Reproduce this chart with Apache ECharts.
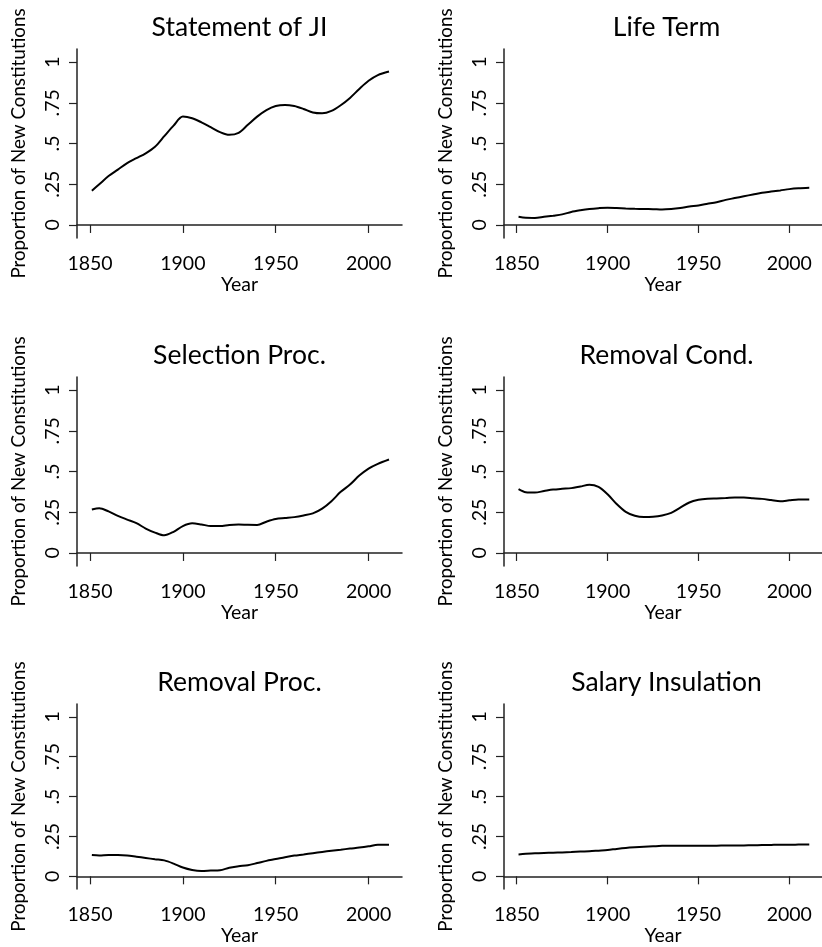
<!DOCTYPE html>
<html>
<head>
<meta charset="utf-8">
<script src="https://cdn.jsdelivr.net/npm/echarts@6/dist/echarts.min.js"></script>
<style>
    html, body { margin: 0; padding: 0; background: #fff; }
    #chart { width: 822px; height: 947px; }
</style>
</head>
<body>
<div id="chart"></div>
<script>
// years sampled along the smoothed curves
var years = [1851, 1855, 1860, 1865, 1870, 1875, 1880, 1885, 1890, 1895, 1900, 1905, 1910,
    1915, 1920, 1925, 1930, 1935, 1940, 1945, 1950, 1955, 1960, 1965, 1970, 1975, 1980,
    1985, 1990, 1995, 2000, 2005, 2011];

var statementJI = [.21, .25, .30, .34, .38, .41, .44, .48, .545, .61, .665, .655, .63,
    .60, .57, .553, .565, .615, .665, .705, .73, .737, .73, .712, .69, .685, .70,
    .735, .78, .835, .885, .92, .942];
var lifeTerm = [.05, .044, .043, .05, .057, .065, .08, .09, .098, .103, .106, .104, .101,
    .099, .098, .097, .095, .098, .104, .113, .12, .13, .14, .154, .165, .176, .187,
    .198, .205, .212, .22, .225, .228];
var selectionProc = [.267, .275, .255, .228, .205, .183, .15, .125, .108, .13, .165, .182, .175,
    .165, .165, .172, .175, .173, .172, .192, .208, .214, .22, .23, .243, .272, .318,
    .375, .42, .475, .518, .547, .574];
var removalCond = [.392, .373, .371, .38, .389, .394, .398, .408, .418, .405, .36, .30, .252,
    .228, .22, .222, .23, .246, .278, .31, .326, .333, .335, .337, .34, .34, .336,
    .332, .325, .318, .323, .328, .328];
var removalProc = [.133, .13, .133, .133, .131, .123, .115, .107, .10, .08, .055, .04, .034,
    .036, .038, .054, .063, .07, .083, .097, .108, .12, .13, .137, .145, .153, .16,
    .167, .174, .18, .188, .198, .198];
var salaryIns = [.137, .141, .145, .147, .148, .15, .152, .155, .157, .161, .165, .172, .178,
    .182, .185, .188, .191, .192, .192, .192, .192, .192, .192, .193, .193, .194, .195,
    .196, .197, .198, .198, .199, .20];

var titles = ['Statement of JI', 'Life Term', 'Selection Proc.', 'Removal Cond.', 'Removal Proc.', 'Salary Insulation'];
var panels = [statementJI, lifeTerm, selectionProc, removalCond, removalProc, salaryIns];
var xTicks = [1850, 1900, 1950, 2000];
var yTicks = [0, .25, .5, .75, 1];

var font = 'Lato, "Open Sans", sans-serif';
var rowTops = [49, 377, 704];
var plotH = 189;
var cols = [{left: 77, right: 420, cx: 239.5}, {left: 504, right: -7, cx: 666.5}];

var grids = [], xAxes = [], yAxes = [], series = [], titleList = [];

panels.forEach(function (vals, i) {
    var col = cols[i % 2];
    var top = rowTops[Math.floor(i / 2)];
    grids.push({left: col.left, right: col.right, top: top, height: plotH});
    titleList.push({
        text: titles[i],
        left: col.cx,
        top: top - 35,
        textAlign: 'center',
        padding: 0,
        textStyle: {fontFamily: font, fontSize: 26.5, fontWeight: 'normal', color: '#000'}
    });
    xAxes.push({
        type: 'value', gridIndex: i, min: 1843, max: 2018,
        name: 'Year', nameLocation: 'middle', nameGap: 35,
        nameTextStyle: {fontFamily: font, fontSize: 19.5, color: '#000'},
        axisLine: {lineStyle: {color: '#222', width: 1.5}},
        axisTick: {customValues: xTicks, length: 8, lineStyle: {color: '#222', width: 1.2}},
        axisLabel: {
            customValues: xTicks, margin: 16, fontFamily: font, fontSize: 19.5, color: '#000',
            formatter: function (v) { return String(v); }
        },
        splitLine: {show: false}
    });
    yAxes.push({
        type: 'value', gridIndex: i, min: -0.08, max: 1.08,
        name: 'Proportion of New Constitutions', nameLocation: 'middle', nameGap: 49,
        nameTextStyle: {fontFamily: font, fontSize: 18.8, color: '#000'},
        axisLine: {show: true, lineStyle: {color: '#222', width: 1.5}},
        axisTick: {show: true, customValues: yTicks, length: 8, lineStyle: {color: '#222', width: 1.2}},
        axisLabel: {
            customValues: yTicks, rotate: 90, margin: 14, fontFamily: font, fontSize: 19.5, color: '#000',
            formatter: function (v) { return v === 0 || v === 1 ? String(v) : String(v).replace('0.', '.'); }
        },
        splitLine: {show: false}
    });
    series.push({
        type: 'line', xAxisIndex: i, yAxisIndex: i,
        data: years.map(function (y, k) { return [y, vals[k]]; }),
        smooth: 0.3, showSymbol: false,
        lineStyle: {color: '#000', width: 2}
    });
});

var chart = echarts.init(document.getElementById('chart'));
chart.setOption({
    animation: false,
    backgroundColor: '#fff',
    title: titleList,
    grid: grids,
    xAxis: xAxes,
    yAxis: yAxes,
    series: series
});
</script>
</body>
</html>
